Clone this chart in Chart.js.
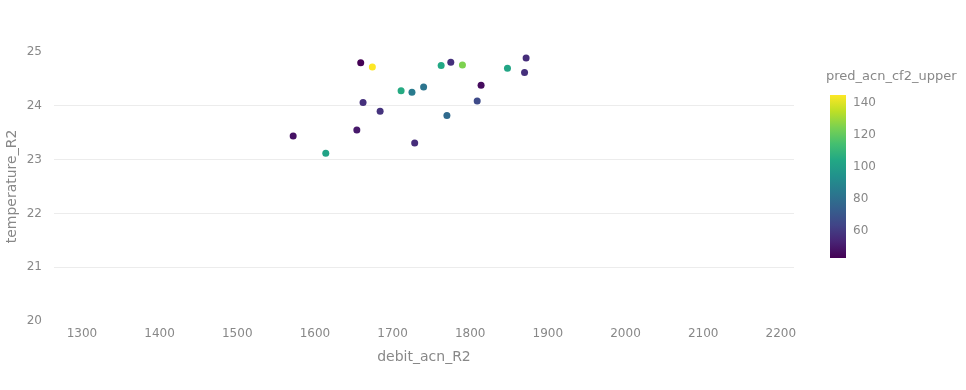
<!DOCTYPE html>
<html>
<head>
<meta charset="utf-8">
<script src="https://cdn.jsdelivr.net/npm/chart.js@4.4.1/dist/chart.umd.min.js"></script>
<style>
  html, body { margin: 0; padding: 0; background: #fff; }
  #wrap { position: relative; width: 966px; height: 390px; }
  #main { position: absolute; left: 0; top: 0; }
  #cbar { position: absolute; left: 800px; top: 0; }
</style>
</head>
<body>
<div id="wrap">
  <canvas id="main" width="800" height="390"></canvas>
  <canvas id="cbar" width="166" height="390"></canvas>
</div>
<script>
// ========== Data ==========
const debitValues = [1572, 1614, 1654, 1659, 1662, 1674, 1684, 1711, 1725, 1728.5,
  1740, 1762.6, 1770, 1775, 1790, 1809, 1814, 1848, 1870, 1872];
const temperatureValues = [23.44, 23.12, 23.55, 24.80, 24.06, 24.72, 23.90, 24.28, 24.25, 23.31,
  24.35, 24.75, 23.82, 24.81, 24.76, 24.09, 24.38, 24.70, 24.62, 24.89];
const upperValues = [48, 102, 50, 43, 57, 145, 58, 105, 85, 56,
  82, 104, 78, 57, 125, 66, 46, 103, 57, 56];

const xTicks = [1300, 1400, 1500, 1600, 1700, 1800, 1900, 2000, 2100, 2200];
const yTicks = [20, 21, 22, 23, 24, 25];
const colorTicks = [60, 80, 100, 120, 140];
const colorMin = 43;
const colorMax = 145;

const textColor = '#888';
const fontFam = '"DejaVu Sans", sans-serif';

// viridis colormap stops
const viridis = ['#440154', '#482475', '#414487', '#355f8d', '#2a788e', '#21918c',
  '#22a884', '#44bf70', '#7ad151', '#bddf26', '#fde725'];

function hexToRgb(h) {
  return [parseInt(h.slice(1, 3), 16), parseInt(h.slice(3, 5), 16), parseInt(h.slice(5, 7), 16)];
}

function viridisColor(v) {
  let t = (v - colorMin) / (colorMax - colorMin);
  t = Math.max(0, Math.min(1, t));
  const pos = t * (viridis.length - 1);
  const i = Math.min(Math.floor(pos), viridis.length - 2);
  const f = pos - i;
  const a = hexToRgb(viridis[i]);
  const b = hexToRgb(viridis[i + 1]);
  const c = a.map((x, k) => Math.round(x + (b[k] - x) * f));
  return `rgb(${c[0]},${c[1]},${c[2]})`;
}

// ========== Main scatter ==========
const points = debitValues.map((x, i) => ({ x, y: temperatureValues[i] }));

new Chart(document.getElementById('main'), {
  type: 'scatter',
  data: {
    datasets: [{
      data: points,
      backgroundColor: upperValues.map(viridisColor),
      borderWidth: 0,
      pointRadius: 3.5,
      pointHoverRadius: 3.5
    }]
  },
  options: {
    responsive: false,
    animation: false,
    devicePixelRatio: 1,
    layout: { padding: { left: 0, top: 52, right: 6, bottom: 0 } },
    plugins: { legend: { display: false }, tooltip: { enabled: false } },
    scales: {
      x: {
        type: 'linear',
        min: 1264,
        max: 2217,
        afterBuildTicks: s => { s.ticks = xTicks.map(v => ({ value: v })); },
        afterFit: s => { s.height = 69; s.paddingLeft = 0; s.paddingRight = 0; },
        border: { display: false },
        grid: { display: false, drawTicks: false },
        ticks: {
          color: textColor, padding: 6, font: { family: fontFam, size: 12 },
          callback: v => String(v)
        },
        title: {
          display: true, text: 'debit_acn_R2', color: textColor,
          font: { family: fontFam, size: 14 }, padding: { top: 0, bottom: 24 }
        }
      },
      y: {
        type: 'linear',
        min: 20,
        max: 25,
        afterBuildTicks: s => { s.ticks = yTicks.map(v => ({ value: v })); },
        afterFit: s => { s.width = 54; s.paddingTop = 0; s.paddingBottom = 0; },
        border: { display: false },
        grid: {
          drawTicks: false,
          lineWidth: 1,
          color: ctx => (ctx.tick && (ctx.tick.value === 20 || ctx.tick.value === 25)) ? 'rgba(0,0,0,0)' : '#ececec'
        },
        ticks: { color: textColor, padding: 12, font: { family: fontFam, size: 12 } },
        title: {
          display: true, text: 'temperature_R2', color: textColor,
          font: { family: fontFam, size: 14 }, padding: { top: 4, bottom: 0 }
        }
      }
    }
  }
});

// ========== Colorbar ==========
const cbarTitle = {
  id: 'cbarTitle',
  afterDraw(chart) {
    const c = chart.ctx;
    c.save();
    c.fillStyle = textColor;
    c.font = '13px ' + fontFam;
    c.textBaseline = 'middle';
    c.textAlign = 'left';
    c.fillText('pred_acn_cf2_upper', 26, 77);
    c.restore();
  }
};

new Chart(document.getElementById('cbar'), {
  type: 'bar',
  data: {
    labels: ['scale'],
    datasets: [{
      data: [[colorMin, colorMax]],
      barPercentage: 1,
      categoryPercentage: 1,
      borderWidth: 0,
      backgroundColor: ctx => {
        const area = ctx.chart.chartArea;
        if (!area) return viridis[5];
        const g = ctx.chart.ctx.createLinearGradient(0, area.bottom, 0, area.top);
        viridis.forEach((col, i) => g.addColorStop(i / (viridis.length - 1), col));
        return g;
      }
    }]
  },
  options: {
    responsive: false,
    animation: false,
    devicePixelRatio: 1,
    layout: { padding: { left: 30, top: 95, right: 0, bottom: 132 } },
    plugins: { legend: { display: false }, tooltip: { enabled: false } },
    scales: {
      x: { display: false },
      y: {
        position: 'right',
        min: colorMin,
        max: colorMax,
        afterBuildTicks: s => { s.ticks = colorTicks.map(v => ({ value: v })); },
        afterFit: s => { s.width = 166 - 46; s.paddingTop = 0; s.paddingBottom = 0; },
        border: { display: false },
        grid: { display: false, drawTicks: false },
        ticks: { color: textColor, padding: 7, font: { family: fontFam, size: 12 } }
      }
    }
  },
  plugins: [cbarTitle]
});
</script>
</body>
</html>
